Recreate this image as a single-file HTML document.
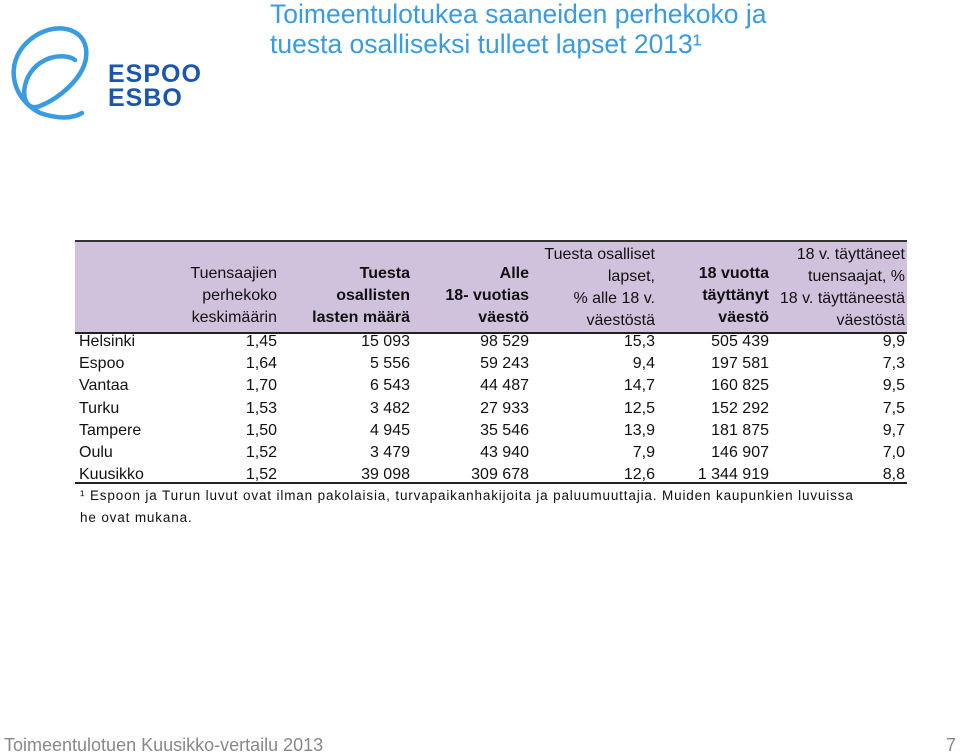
<!DOCTYPE html>
<html><head><meta charset="utf-8"><style>
body{margin:0;width:960px;height:756px;background:#fff;position:relative;overflow:hidden;font-family:"Liberation Sans",sans-serif;}
.t{position:absolute;white-space:nowrap;font-size:16px;line-height:22px;color:#111;}
.r{text-align:right;}
.b{font-weight:bold;}
</style></head><body>
<svg style="position:absolute;left:0;top:18px" width="200" height="110" viewBox="0 0 200 110">
<path d="M40 95 C 10 80, 2 40, 35 18 C 60 2, 90 12, 86 40 C 83 60, 60 80, 40 88 C 20 96, 18 60, 40 45 C 55 35, 70 38, 75 42 M40 95 C 55 100, 70 102, 82 95" fill="none" stroke="#3a9be0" stroke-width="4.5" stroke-linecap="round"/>
<text x="108" y="64" font-family="Liberation Sans" font-weight="bold" font-size="25" fill="#1a56b0" letter-spacing="1">ESPOO</text>
<text x="108" y="88" font-family="Liberation Sans" font-weight="bold" font-size="25" fill="#1a56b0" letter-spacing="1">ESBO</text>
</svg>
<div style="position:absolute;left:270px;top:-1px;font-size:26.5px;line-height:30px;color:#3a9be0;">Toimeentulotukea saaneiden perhekoko ja<br>tuesta osalliseksi tulleet lapset 2013¹</div>

<div style="position:absolute;left:75px;top:240px;width:832px;height:90px;background:#d0c2dd;border-top:2px solid #333;border-bottom:2px solid #222;"></div>

<div class="t r" style="left:150px;width:127px;top:263px;">Tuensaajien<br>perhekoko<br>keskimäärin</div>
<div class="t r b" style="left:280px;width:130px;top:263px;">Tuesta<br>osallisten<br>lasten määrä</div>
<div class="t r b" style="left:410px;width:119px;top:263px;">Alle<br>18- vuotias<br>väestö</div>
<div class="t r" style="left:520px;width:135px;top:244px;">Tuesta osalliset<br>lapset,<br>% alle 18 v.<br>väestöstä</div>
<div class="t r b" style="left:660px;width:109px;top:263px;">18 vuotta<br>täyttänyt<br>väestö</div>
<div class="t r" style="left:760px;width:145px;top:244px;">18 v. täyttäneet<br>tuensaajat, %<br>18 v. täyttäneestä<br>väestöstä</div>

<div id="rows"></div>
<div style="position:absolute;left:75px;top:482px;width:832px;height:2px;background:#222;"></div>

<div style="position:absolute;left:80px;top:485px;font-size:13.5px;line-height:22px;color:#111;letter-spacing:0.85px;">¹ Espoon ja Turun luvut ovat ilman pakolaisia, turvapaikanhakijoita ja paluumuuttajia. Muiden kaupunkien luvuissa<br>he ovat mukana.</div>

<div style="position:absolute;left:4px;top:735px;font-size:18px;color:#888;">Toimeentulotuen Kuusikko-vertailu 2013</div>
<div style="position:absolute;left:946px;top:735px;font-size:18px;color:#888;">7</div>

<script>
const cities=["Helsinki","Espoo","Vantaa","Turku","Tampere","Oulu","Kuusikko"];
const perhekoko=["1,45","1,64","1,70","1,53","1,50","1,52","1,52"];
const lapset=["15 093","5 556","6 543","3 482","4 945","3 479","39 098"];
const alle18=["98 529","59 243","44 487","27 933","35 546","43 940","309 678"];
const lapsetPct=["15,3","9,4","14,7","12,5","13,9","7,9","12,6"];
const yli18=["505 439","197 581","160 825","152 292","181 875","146 907","1 344 919"];
const aikuisetPct=["9,9","7,3","9,5","7,5","9,7","7,0","8,8"];
const cols=[[perhekoko,150,277],[lapset,280,410],[alle18,410,529],[lapsetPct,520,655],[yli18,660,769],[aikuisetPct,760,905]];
const host=document.getElementById('rows');
cities.forEach((c,i)=>{
  const top=331+i*22.2;
  const d=document.createElement('div');
  d.className='t';d.style.left='79px';d.style.top=top+'px';d.textContent=c;
  
  
  host.appendChild(d);
  cols.forEach(([arr,l,r])=>{
    const e=document.createElement('div');
    e.className='t r';e.style.left=l+'px';e.style.width=(r-l)+'px';e.style.top=top+'px';e.textContent=arr[i];
    
    
    host.appendChild(e);
  });
});
</script>
</body></html>
